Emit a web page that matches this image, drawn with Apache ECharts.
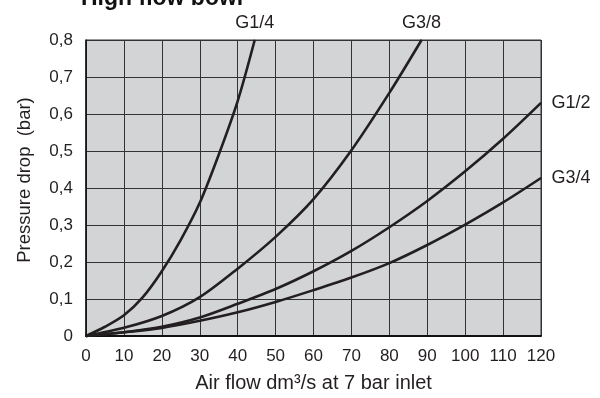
<!DOCTYPE html>
<html><head><meta charset="utf-8">
<script src="https://cdn.jsdelivr.net/npm/echarts@6/dist/echarts.min.js"></script>
<style>html,body{margin:0;padding:0;background:#fff}#c{width:600px;height:398px}</style>
</head><body><div id="c"></div>
<script>
const seriesNames = ['G1/4', 'G3/8', 'G1/2', 'G3/4'];
const g14x = [0, 5, 10, 15, 20, 25, 30, 35, 40, 44.5];
const g14y = [0, 0.025, 0.056, 0.105, 0.175, 0.26, 0.36, 0.49, 0.635, 0.8];
const g38x = [0, 10, 20, 30, 40, 50, 60, 70, 80, 88.5];
const g38y = [0, 0.022, 0.054, 0.105, 0.182, 0.268, 0.37, 0.502, 0.657, 0.8];
const g12x = [0, 10, 20, 30, 40, 50, 60, 70, 80, 90, 100, 110, 120];
const g12y = [0, 0.01, 0.025, 0.05, 0.087, 0.127, 0.175, 0.23, 0.294, 0.365, 0.445, 0.533, 0.63];
const g34x = [0, 10, 20, 30, 40, 50, 60, 70, 80, 90, 100, 110, 120];
const g34y = [0, 0.01, 0.022, 0.041, 0.064, 0.092, 0.124, 0.158, 0.197, 0.246, 0.301, 0.361, 0.427];
const xTicks = [0, 10, 20, 30, 40, 50, 60, 70, 80, 90, 100, 110, 120];
const yTicks = ['0', '0,1', '0,2', '0,3', '0,4', '0,5', '0,6', '0,7', '0,8'];

const font = 'Liberation Sans, Arial, sans-serif';
const labelPos = ['top', 'top', 'right', 'right'];
const labelOff = [[-1, 0], [6, 0], [0, 0], [0, 2]];
function build(xs, ys, idx) {
  return xs.map((x, i) => {
    const p = { value: [x, ys[i]] };
    if (i === xs.length - 1) {
      p.label = { show: true, position: labelPos[idx], formatter: seriesNames[idx],
        distance: idx < 2 ? 7 : 10, offset: labelOff[idx],
        color: '#231f20', fontSize: 18, fontFamily: font };
    }
    return p;
  });
}
const datasets = [[g14x, g14y], [g38x, g38y], [g12x, g12y], [g34x, g34y]];
const chart = echarts.init(document.getElementById('c'), null, { renderer: 'canvas' });
chart.setOption({
  animation: false,
  title: { text: 'High flow bowl', left: 76, top: -18,
    textStyle: { fontSize: 23, fontWeight: 'bold', color: '#111', fontFamily: font } },
  grid: { left: 86, right: 59, top: 40, bottom: 57, show: true, backgroundColor: '#d3d4d6',
    borderColor: '#333', borderWidth: 1 },
  xAxis: {
    type: 'value', min: 0, max: 120, interval: 10,
    name: 'Air flow dm³/s at 7 bar inlet', nameLocation: 'middle', nameGap: 37,
    nameTextStyle: { fontSize: 20, color: '#231f20', fontFamily: font },
    axisLine: { show: true, lineStyle: { color: '#111', width: 2 } },
    axisTick: { show: false },
    axisLabel: { margin: 12, fontSize: 17, color: '#231f20', fontFamily: font,
      formatter: v => String(xTicks[Math.round(v / 10)]) },
    splitLine: { show: true, lineStyle: { color: '#333', width: 1 } }
  },
  yAxis: {
    type: 'value', min: 0, max: 0.8, interval: 0.1,
    name: 'Pressure drop  (bar)', nameLocation: 'middle', nameGap: 52,
    nameTextStyle: { fontSize: 18.5, color: '#231f20', fontFamily: font, padding: [0, 0, 0, 16] },
    axisLine: { show: true, lineStyle: { color: '#111', width: 1.5 } },
    axisTick: { show: false },
    axisLabel: { margin: 13, fontSize: 17, color: '#231f20', fontFamily: font,
      formatter: v => yTicks[Math.round(v * 10)] },
    splitLine: { show: true, lineStyle: { color: '#333', width: 1 } }
  },
  series: datasets.map((d, i) => ({
    type: 'line', name: seriesNames[i], data: build(d[0], d[1], i),
    smooth: 0.3, showSymbol: true, showAllSymbol: true, symbol: 'circle', symbolSize: 1,
    itemStyle: { color: '#231f20' }, clip: false,
    lineStyle: { color: '#231f20', width: 2.6 },
    labelLayout: { hideOverlap: false }
  }))
});
</script></body></html>
